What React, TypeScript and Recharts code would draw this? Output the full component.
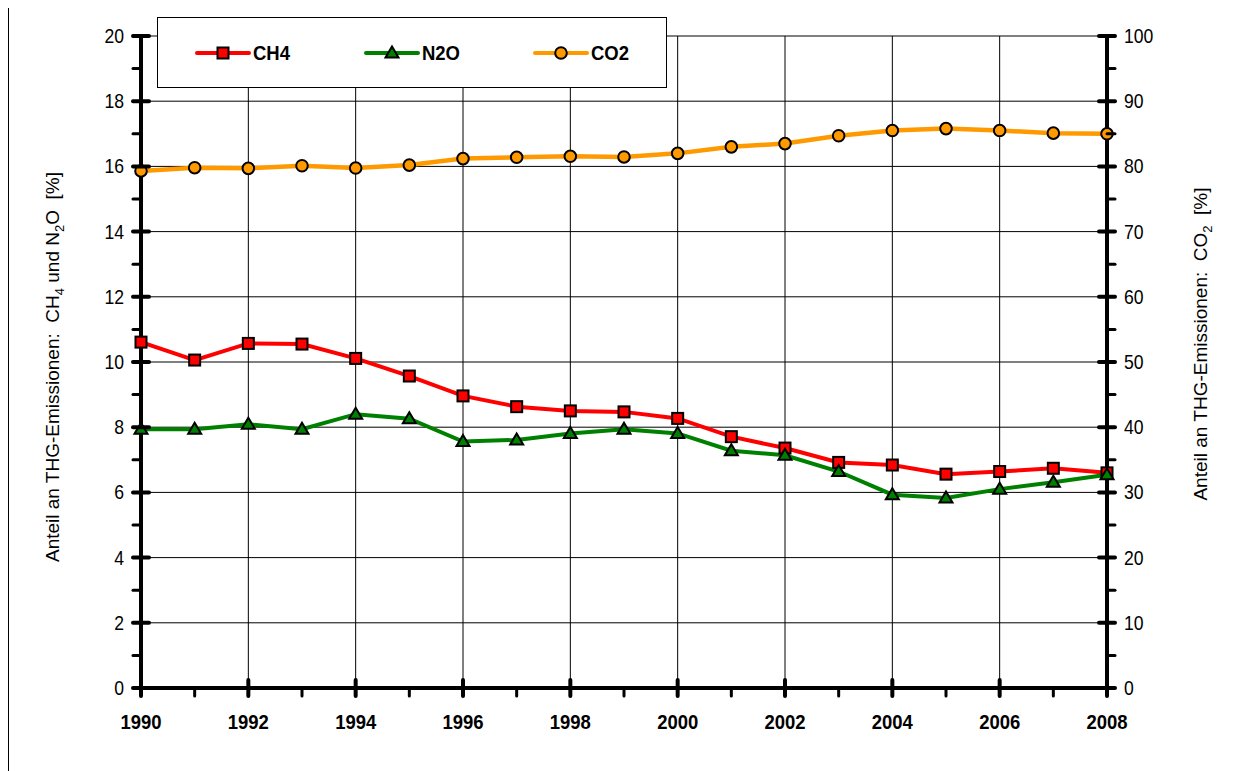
import {
  LineChart,
  Line,
  XAxis,
  YAxis,
  ReferenceLine,
  Legend,
} from 'recharts';

const years = [
  1990, 1991, 1992, 1993, 1994, 1995, 1996, 1997, 1998, 1999,
  2000, 2001, 2002, 2003, 2004, 2005, 2006, 2007, 2008,
];
const ch4 = [
  10.61, 10.06, 10.57, 10.55, 10.11, 9.57, 8.96, 8.63, 8.5, 8.47,
  8.27, 7.71, 7.36, 6.92, 6.84, 6.56, 6.64, 6.74, 6.6,
];
const n2o = [
  7.94, 7.94, 8.09, 7.94, 8.4, 8.26, 7.56, 7.61, 7.81, 7.94,
  7.81, 7.28, 7.14, 6.64, 5.93, 5.83, 6.1, 6.31, 6.54,
];
const co2 = [
  79.3, 79.8, 79.7, 80.1, 79.75, 80.2, 81.2, 81.4, 81.55, 81.45,
  82.0, 83.0, 83.5, 84.7, 85.5, 85.8, 85.5, 85.1, 85.0,
];

const leftTicks = [0, 1, 2, 3, 4, 5, 6, 7, 8, 9, 10, 11, 12, 13, 14, 15, 16, 17, 18, 19, 20];
const rightTicks = [0, 5, 10, 15, 20, 25, 30, 35, 40, 45, 50, 55, 60, 65, 70, 75, 80, 85, 90, 95, 100];
const gridValues = [0, 2, 4, 6, 8, 10, 12, 14, 16, 18, 20];
const gridYears = [1992, 1994, 1996, 1998, 2000, 2002, 2004, 2006];

const series = [
  { key: 'ch4', name: 'CH4', color: '#ff0000', shape: 'square' },
  { key: 'n2o', name: 'N2O', color: '#008000', shape: 'triangle' },
  { key: 'co2', name: 'CO2', color: '#ff9900', shape: 'circle' },
];

const chartData = years.map((year, i) => ({
  year,
  ch4: ch4[i],
  n2o: n2o[i],
  co2: co2[i],
}));

// no narrow face installed, so squeeze Liberation Sans instead
const ARIAL = "'Liberation Sans', Arial, sans-serif";
const SQUEEZE = 0.88;
const GAP = 17;
const XGAP = 26;

function Marker({ shape, cx, cy, color }: { shape: string; cx: number; cy: number; color: string }) {
  if (shape === 'square') {
    return <rect x={cx - 5.5} y={cy - 5.5} width={11} height={11} fill={color} stroke="#000" strokeWidth={2} />;
  }
  if (shape === 'triangle') {
    return (
      <polygon
        points={`${cx},${cy - 6.5} ${cx + 6.5},${cy + 4.5} ${cx - 6.5},${cy + 4.5}`}
        fill={color}
        stroke="#000"
        strokeWidth={2}
      />
    );
  }
  return <circle cx={cx} cy={cy} r={5.8} fill={color} stroke="#000" strokeWidth={2} />;
}

function makeDot(shape: string, color: string) {
  return (props: any) => {
    const { cx, cy, index } = props;
    if (cx == null || cy == null) return <g key={`d-${shape}-${index}`} />;
    return <Marker key={`d-${shape}-${index}`} shape={shape} cx={cx} cy={cy} color={color} />;
  };
}

function NarrowText({ x, y, anchor, bold, size = 20, children }: any) {
  return (
    <text
      transform={`translate(${x},${y}) scale(${SQUEEZE},1)`}
      textAnchor={anchor}
      fontFamily={ARIAL}
      fontWeight={bold ? 'bold' : 'normal'}
      fontSize={size}
      fill="#000"
    >
      {children}
    </text>
  );
}

function LeftTick(props: any) {
  const { x, y, payload } = props;
  const ax = x + GAP;
  const major = payload.value % 2 === 0;
  return (
    <g>
      <line
        x1={ax - 8}
        x2={major ? ax + 8 : ax}
        y1={y}
        y2={y}
        stroke="#000"
        strokeWidth={major ? 4 : 3}
        strokeLinecap="round"
      />
      {major && (
        <NarrowText x={x} y={y + 7} anchor="end">
          {payload.value}
        </NarrowText>
      )}
    </g>
  );
}

function RightTick(props: any) {
  const { x, y, payload } = props;
  const ax = x - GAP;
  const major = payload.value % 10 === 0;
  return (
    <g>
      <line
        x1={major ? ax - 8 : ax}
        x2={ax + 8}
        y1={y}
        y2={y}
        stroke="#000"
        strokeWidth={major ? 4 : 3}
        strokeLinecap="round"
      />
      {major && (
        <NarrowText x={x} y={y + 7} anchor="start">
          {payload.value}
        </NarrowText>
      )}
    </g>
  );
}

function BottomTick(props: any) {
  const { x, y, payload } = props;
  const ay = y - XGAP;
  const major = payload.value % 2 === 0;
  return (
    <g>
      <line
        x1={x}
        x2={x}
        y1={major ? ay - 8 : ay}
        y2={ay + 8}
        stroke="#000"
        strokeWidth={major ? 4 : 3}
        strokeLinecap="round"
      />
      {major && (
        <NarrowText x={x} y={y + 15} anchor="middle" bold size={21}>
          {payload.value}
        </NarrowText>
      )}
    </g>
  );
}

function LeftTitle({ viewBox }: any) {
  const cx = viewBox.x - 22;
  const cy = viewBox.y + viewBox.height / 2 + 5;
  return (
    <text
      x={cx}
      y={cy}
      transform={`rotate(-90, ${cx}, ${cy})`}
      textAnchor="middle"
      fontFamily={ARIAL}
      fontSize={19}
      fill="#000"
      style={{ whiteSpace: 'pre' }}
    >
      <tspan>Anteil an THG-Emissionen:  CH</tspan>
      <tspan dy={5} fontSize={13}>4</tspan>
      <tspan dy={-5}> und N</tspan>
      <tspan dy={5} fontSize={13}>2</tspan>
      <tspan dy={-5}>O  [%]</tspan>
    </text>
  );
}

function RightTitle({ viewBox }: any) {
  const cx = viewBox.x + 100;
  const cy = viewBox.y + viewBox.height / 2 - 18;
  return (
    <text
      x={cx}
      y={cy}
      transform={`rotate(-90, ${cx}, ${cy})`}
      textAnchor="middle"
      fontFamily={ARIAL}
      fontSize={19}
      fill="#000"
      style={{ whiteSpace: 'pre' }}
    >
      <tspan>Anteil an THG-Emissionen:  CO</tspan>
      <tspan dy={5} fontSize={13}>2</tspan>
      <tspan dy={-5}>  [%]</tspan>
    </text>
  );
}

function LegendBox() {
  return (
    <div
      style={{
        width: 508,
        height: 69,
        background: '#fff',
        border: '1px solid #000',
        display: 'flex',
        alignItems: 'center',
      }}
    >
      {series.map((s) => (
        <div key={s.key} style={{ width: 169, paddingLeft: 37, display: 'flex', alignItems: 'center', boxSizing: 'border-box' }}>
          <svg width={56} height={20} style={{ display: 'block' }}>
            <line x1={2} x2={54} y1={10} y2={10} stroke={s.color} strokeWidth={4} strokeLinecap="round" />
            <Marker shape={s.shape} cx={28} cy={10} color={s.color} />
          </svg>
          <span
            style={{
              marginLeft: 2,
              fontFamily: ARIAL,
              fontWeight: 'bold',
              fontSize: 21,
              color: '#000',
              lineHeight: '20px',
              display: 'inline-block',
              transform: `scaleX(${SQUEEZE})`,
              transformOrigin: 'left center',
            }}
          >
            {s.name}
          </span>
        </div>
      ))}
    </div>
  );
}

export default function App() {
  return (
    <div style={{ position: 'relative', width: 1238, height: 763 }}>
      <div style={{ position: 'absolute', left: 0, top: 0, width: 1, height: 763, background: '#000' }} />
      <LineChart
        width={1238}
        height={763}
        data={chartData}
        margin={{ top: 28, right: 79, bottom: 43, left: 73 }}
      >
        <XAxis
          dataKey="year"
          type="number"
          domain={[1990, 2008]}
          ticks={years}
          interval={0}
          height={40}
          tickSize={0}
          tickMargin={XGAP}
          tick={<BottomTick />}
          axisLine={{ stroke: '#000', strokeWidth: 4, strokeLinecap: 'square' }}
          tickLine={false}
        />
        <YAxis
          yAxisId="left"
          domain={[0, 20]}
          ticks={leftTicks}
          interval={0}
          width={60}
          tickSize={0}
          tickMargin={GAP}
          tick={<LeftTick />}
          axisLine={{ stroke: '#000', strokeWidth: 4, strokeLinecap: 'square' }}
          tickLine={false}
          label={{ content: (p: any) => <LeftTitle {...p} /> }}
        />
        <YAxis
          yAxisId="right"
          orientation="right"
          domain={[0, 100]}
          ticks={rightTicks}
          interval={0}
          width={60}
          tickSize={0}
          tickMargin={GAP}
          tick={<RightTick />}
          axisLine={{ stroke: '#000', strokeWidth: 4, strokeLinecap: 'square' }}
          tickLine={false}
          label={{ content: (p: any) => <RightTitle {...p} /> }}
        />
        {gridValues.map((v) => (
          <ReferenceLine key={`h-${v}`} yAxisId="left" y={v} stroke="#000" strokeWidth={1} />
        ))}
        {gridYears.map((v) => (
          <ReferenceLine key={`v-${v}`} yAxisId="left" x={v} stroke="#000" strokeWidth={1} />
        ))}
        <Legend
          layout="horizontal"
          align="center"
          verticalAlign="middle"
          wrapperStyle={{ position: 'absolute', left: 149, top: 9, width: 510, height: 71 }}
          content={() => <LegendBox />}
        />
        <Line
          yAxisId="left"
          dataKey="ch4"
          name="CH4"
          type="linear"
          stroke="#ff0000"
          strokeWidth={4}
          dot={makeDot('square', '#ff0000')}
          activeDot={false}
          isAnimationActive={false}
        />
        <Line
          yAxisId="left"
          dataKey="n2o"
          name="N2O"
          type="linear"
          stroke="#008000"
          strokeWidth={4}
          dot={makeDot('triangle', '#008000')}
          activeDot={false}
          isAnimationActive={false}
        />
        <Line
          yAxisId="right"
          dataKey="co2"
          name="CO2"
          type="linear"
          stroke="#ff9900"
          strokeWidth={4.5}
          dot={makeDot('circle', '#ff9900')}
          activeDot={false}
          isAnimationActive={false}
        />
      </LineChart>
    </div>
  );
}
